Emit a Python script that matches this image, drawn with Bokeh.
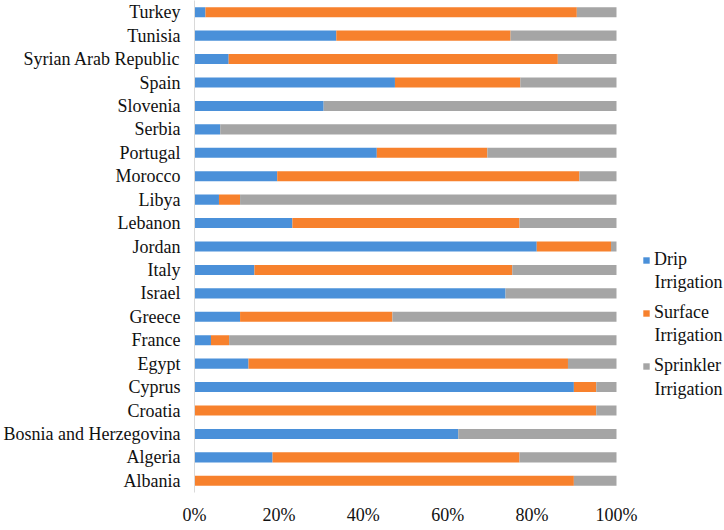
from bokeh.plotting import figure
from bokeh.models import (ColumnDataSource, Range1d, FactorRange, FixedTicker, Legend,
                          LegendItem, Label)
from bokeh.embed import file_html
from bokeh.resources import INLINE

countries = ["Albania", "Algeria", "Bosnia and Herzegovina", "Croatia", "Cyprus", "Egypt",
             "France", "Greece", "Israel", "Italy", "Jordan", "Lebanon", "Libya", "Morocco",
             "Portugal", "Serbia", "Slovenia", "Spain", "Syrian Arab Republic", "Tunisia", "Turkey"]
drip = [0, 18.5, 62.5, 0, 89.9, 12.8, 3.9, 10.8, 73.7, 14.2, 81.1, 23.2, 5.8, 19.6,
        43.2, 6.1, 30.6, 47.5, 8.1, 33.6, 2.6]
surface = [89.9, 58.5, 0, 95.2, 5.3, 75.7, 4.3, 36.1, 0, 61.1, 17.6, 53.8, 5.0, 71.6,
           26.2, 0, 0, 29.7, 78.0, 41.3, 88.0]
sprinkler = [10.1, 23.0, 37.5, 4.8, 4.8, 11.5, 91.8, 53.1, 26.3, 24.7, 1.3, 23.0, 89.2, 8.8,
             30.6, 93.9, 69.4, 22.8, 13.9, 25.1, 9.4]
series = ["drip", "surface", "sprinkler"]
legend_first = ["Drip", "Surface", "Sprinkler"]
legend_second = ["Irrigation", "Irrigation", "Irrigation"]
colors = ["#4A90D9", "#F7812D", "#A5A5A5"]
tick_values = [0, 20, 40, 60, 80, 100]
tick_labels = ["0%", "20%", "40%", "60%", "80%", "100%"]

source = ColumnDataSource(dict(country=countries, drip=drip, surface=surface, sprinkler=sprinkler))

FONT = "Liberation Serif"
FS = "18px"
TXT = "#111111"

BAR_W = 422        # pixels spanned by 0..100 %
FW, FH = 530, 492  # frame also holds the legend area on the right
p = figure(width=716, height=522, frame_width=FW, frame_height=FH,
           output_backend="svg", toolbar_location=None,
           y_range=FactorRange(*countries, range_padding=0),
           x_range=Range1d(0, 100 * FW / BAR_W))
p.min_border_left = 186
p.min_border_right = 0
p.min_border_top = 0
p.min_border_bottom = 30
p.outline_line_color = None
p.xgrid.visible = False
p.ygrid.visible = False

rs = p.hbar_stack(series, y="country", height=0.43, color=colors, source=source, line_color=None)

p.xaxis.ticker = FixedTicker(ticks=tick_values)
p.xaxis.major_label_overrides = {v: l for v, l in zip(tick_values, tick_labels)}
p.xaxis.axis_line_color = None
p.xaxis.major_tick_line_color = None
p.xaxis.minor_tick_line_color = None
p.xaxis.major_label_text_font = FONT
p.xaxis.major_label_text_font_size = FS
p.xaxis.major_label_text_color = TXT
p.xaxis.major_label_standoff = 6

p.yaxis.axis_line_color = "#D9D9D9"
p.yaxis.major_tick_line_color = None
p.yaxis.minor_tick_line_color = None
p.yaxis.major_label_text_font = FONT
p.yaxis.major_label_text_font_size = FS
p.yaxis.major_label_text_color = TXT
p.yaxis.major_label_standoff = 8

# legend (screen offsets relative to the frame's bottom-left corner)
LX = 448
second_y = [211, 158, 104]
legend = Legend(items=[LegendItem(label=l, renderers=[r]) for l, r in zip(legend_first, rs)],
                location=(LX, 116), border_line_color=None, background_fill_alpha=0,
                label_text_font=FONT, label_text_font_size=FS, label_text_color=TXT,
                glyph_width=8, glyph_height=8, spacing=32, padding=0, margin=0,
                label_standoff=4)
p.add_layout(legend, "center")
for t, yy in zip(legend_second, second_y):
    p.add_layout(Label(x=LX + 12, y=yy, x_units="screen", y_units="screen", text=t,
                       text_font=FONT, text_font_size=FS, text_color=TXT,
                       text_baseline="middle", text_align="left"))

open("out.html", "w").write(file_html(p, INLINE))
